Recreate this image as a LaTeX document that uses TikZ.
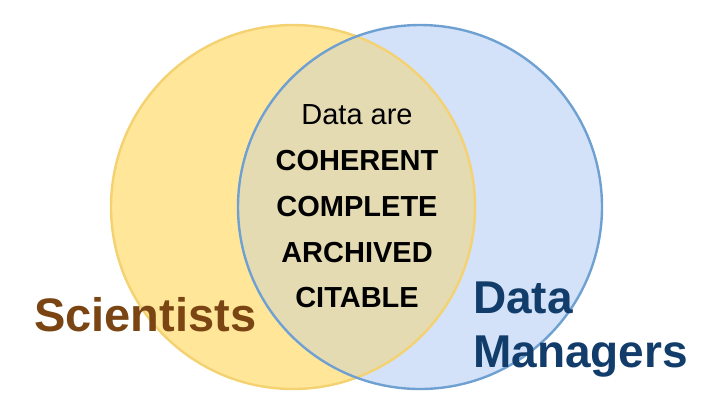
\documentclass[tikz,border=0pt]{standalone}
\usepackage{fontspec}
\setmainfont{Liberation Sans}
\definecolor{sciyellow}{HTML}{FFE699}
\definecolor{sciedge}{HTML}{F4D272}
\definecolor{dmblue}{HTML}{D3E2F8}
\definecolor{dmedge}{HTML}{6FA0D2}
\definecolor{shared}{HTML}{E5DBB3}
\definecolor{scitext}{HTML}{7A4512}
\definecolor{dmtext}{HTML}{123D6B}
\begin{document}
\begin{tikzpicture}[
 x=1pt,y=-1pt,
 every node/.style={inner sep=0pt,anchor=base},
 quality/.style={font=\fontsize{29}{29}\selectfont\bfseries},
 group/.style={anchor=base west,font=\fontsize{47}{54}\selectfont\bfseries}
]
 \useasboundingbox (0,0) rectangle (720,405);
 \coordinate (sci) at (293,207);
 \coordinate (dm) at (420,207);

 % the two sets, with the shared part filled on its own
 \fill[sciyellow] (sci) circle[radius=182];
 \fill[dmblue] (dm) circle[radius=182];
 \begin{scope}
  \clip (sci) circle[radius=182];
  \fill[shared] (dm) circle[radius=182];
 \end{scope}
 \draw[sciedge,line width=2.4] (sci) circle[radius=182];
 \draw[dmedge,line width=2.4] (dm) circle[radius=182];

 \node[font=\fontsize{29}{29}\selectfont] (intro) at (357,124) {Data are};
 \node[quality] (coherent) at (357,170) {COHERENT};
 \node[quality] (complete) at (357,216) {COMPLETE};
 \node[quality] (archived) at (357,262) {ARCHIVED};
 \node[quality] (citable) at (357,307) {CITABLE};

 \node[group,text=scitext] (scientists) at (34,331) {Scientists};
 \node[group,text=dmtext,font=\fontsize{46}{54}\selectfont\bfseries]
  (dmdata) at (473,313) {Data};
 \node[group,text=dmtext,font=\fontsize{46}{54}\selectfont\bfseries]
  (dmmanagers) at (473,367) {Managers};
\end{tikzpicture}
\end{document}
